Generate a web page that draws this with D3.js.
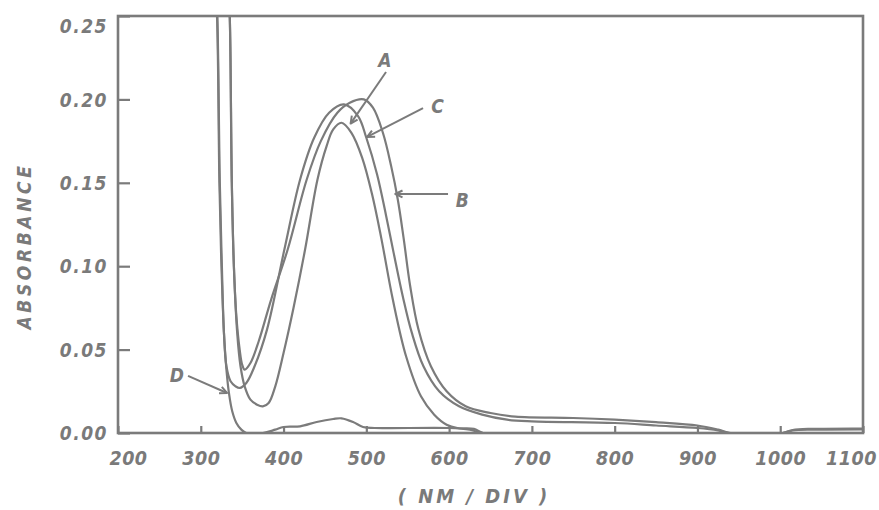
<!DOCTYPE html>
<html><head><meta charset="utf-8">
<script src="https://cdn.jsdelivr.net/npm/d3@7/dist/d3.min.js"></script>
<style>
html,body{margin:0;padding:0;background:#fff;}
text{font-family:"DejaVu Sans Condensed","Liberation Sans Narrow","DejaVu Sans",sans-serif;font-style:italic;font-weight:bold;fill:#7a7a7a;}
</style></head><body>
<svg id="chart" width="879" height="510"></svg>
<script>
// ---- data (wavelength nm, absorbance) ----
const curveA = [[333,0.27],[335,0.25],[337.5,0.15],[340,0.10],[344,0.06],[348,0.04],[353,0.028],[360,0.02],[368,0.017],[375,0.016],[382,0.018],[390,0.028],[400,0.048],[412,0.075],[426,0.11],[441,0.152],[452,0.172],[460,0.182],[470,0.186],[482,0.18],[495,0.165],[507,0.143],[518,0.117],[532,0.08],[548,0.046],[566,0.022],[582,0.011],[597,0.005],[610,0.003],[630,0.0025],[641,0],[700,0],[1100,0]];
const curveB = [[333,0.27],[335,0.25],[337.5,0.15],[340,0.10],[343,0.07],[347,0.05],[350,0.041],[353,0.038],[360,0.042],[370,0.055],[385,0.08],[405,0.11],[428,0.152],[445,0.175],[465,0.192],[480,0.198],[497,0.2],[508,0.195],[520,0.18],[530,0.16],[538,0.14],[545,0.117],[553,0.088],[563,0.062],[578,0.04],[597,0.025],[620,0.016],[650,0.012],[680,0.0098],[750,0.009],[800,0.008],[850,0.0065],[900,0.0045],[925,0.002],[940,0],[1003,0],[1015,0.0018],[1040,0.0025],[1100,0.0027]];
const curveC = [[318,0.27],[320,0.25],[323,0.15],[325.5,0.10],[328,0.06],[331,0.04],[336,0.031],[342,0.028],[347,0.027],[355,0.03],[365,0.04],[380,0.062],[401,0.11],[420,0.152],[437,0.177],[455,0.192],[473,0.197],[490,0.19],[500,0.177],[513,0.155],[524,0.13],[533,0.108],[544,0.082],[555,0.06],[569,0.04],[588,0.025],[612,0.016],[640,0.011],[670,0.008],[700,0.007],[800,0.006],[850,0.0045],[900,0.003],[925,0.0015],[938,0],[1003,0],[1015,0.0015],[1040,0.002],[1100,0.0022]];
const curveD = [[317,0.27],[319.6,0.25],[322.5,0.15],[325,0.10],[328,0.06],[331,0.038],[334,0.024],[338,0.013],[343,0.006],[349,0.002],[355,0],[375,0],[390,0.002],[400,0.0036],[420,0.004],[440,0.0066],[460,0.0084],[470,0.0088],[484,0.0066],[496,0.0036],[510,0.003],[600,0.003],[625,0.002],[641,0],[1100,0]];
const xTicks = [200,300,400,500,600,700,800,900,1000,1100];
const yTicks = [0.00,0.05,0.10,0.15,0.20,0.25];
const xTitle = "( NM / DIV )";
const yTitle = "ABSORBANCE";
// annotations: label, label position, arrow start, arrow end (data units)
const annoLabels = ["A","C","B","D"];
const annoText = [[522.5,0.2235],[586,0.196],[616,0.1395],[271,0.0345]];
const annoFrom = [[523.8,0.2164],[568.5,0.1948],[598.7,0.1433],[284.6,0.0342]];
const annoTo = [[481,0.1855],[501,0.1775],[535,0.1433],[331.7,0.024]];

// ---- layout ----
const svg = d3.select("#chart");
const L=118, R=863, T=16, B=433;
const x = d3.scaleLinear().domain([200,1100]).range([L,R]);
const y = d3.scaleLinear().domain([0,0.25]).range([B,T]);
const col = "#7b7b7b";

svg.append("defs").append("clipPath").attr("id","clip")
  .append("rect").attr("x",L).attr("y",T).attr("width",R-L).attr("height",B-T);

const line = d3.line().x(d=>x(d[0])).y(d=>y(d[1])).curve(d3.curveCatmullRom.alpha(0.5));
const g = svg.append("g").attr("clip-path","url(#clip)");
[curveD,curveC,curveB,curveA].forEach(c=>{
  g.append("path").attr("d",line(c)).attr("fill","none").attr("stroke",col).attr("stroke-width",2.2).attr("stroke-linejoin","round");
});

// frame
svg.append("rect").attr("x",L).attr("y",T).attr("width",R-L).attr("height",B-T)
  .attr("fill","none").attr("stroke",col).attr("stroke-width",2.6);

// axes ticks inward
const xAxis = d3.axisBottom(x).tickValues(xTicks).tickSize(-7).tickPadding(18).tickFormat(d3.format("d"));
const gx = svg.append("g").attr("transform",`translate(0,${B})`).call(xAxis);
gx.select(".domain").remove();
gx.selectAll(".tick line").attr("stroke",col).attr("stroke-width",2.2);
gx.selectAll(".tick text").attr("font-size",19.5).attr("letter-spacing",0.5).attr("fill",col)
  .attr("dx",(d,i)=> i===0?10:(i===xTicks.length-1?-12:0));

const yAxis = d3.axisLeft(y).tickValues(yTicks).tickSize(-12).tickPadding(10).tickFormat(d3.format(".2f"));
const gy = svg.append("g").attr("transform",`translate(${L},0)`).call(yAxis);
gy.select(".domain").remove();
gy.selectAll(".tick line").attr("stroke",col).attr("stroke-width",2.2);
gy.selectAll(".tick text").attr("font-size",19).attr("letter-spacing",1.5).attr("fill",col)
  .attr("dy",d=> d===0.25?"0.85em":"0.35em");

svg.append("text").attr("x",474).attr("y",503).attr("text-anchor","middle")
  .attr("font-size",20).attr("letter-spacing",3).text(xTitle);
svg.append("text").attr("transform","translate(31,246) rotate(-90)").attr("text-anchor","middle")
  .attr("font-size",19).attr("letter-spacing",3.6).text(yTitle);

// annotations
annoLabels.forEach((lab,i)=>{
  svg.append("text").attr("x",x(annoText[i][0])).attr("y",y(annoText[i][1])).attr("text-anchor","middle")
    .attr("dy","0.35em").attr("font-size",19).text(lab);
  const x1=x(annoFrom[i][0]), y1=y(annoFrom[i][1]), x2=x(annoTo[i][0]), y2=y(annoTo[i][1]);
  svg.append("line").attr("x1",x1).attr("y1",y1).attr("x2",x2).attr("y2",y2)
    .attr("stroke",col).attr("stroke-width",2);
  const ang=Math.atan2(y2-y1,x2-x1), h=8, s=0.45;
  const p = [[x2-h*Math.cos(ang-s), y2-h*Math.sin(ang-s)],[x2,y2],[x2-h*Math.cos(ang+s), y2-h*Math.sin(ang+s)]];
  svg.append("path").attr("d",d3.line()(p)).attr("fill","none").attr("stroke",col).attr("stroke-width",2).attr("stroke-linejoin","round");
});
</script>
</body></html>
